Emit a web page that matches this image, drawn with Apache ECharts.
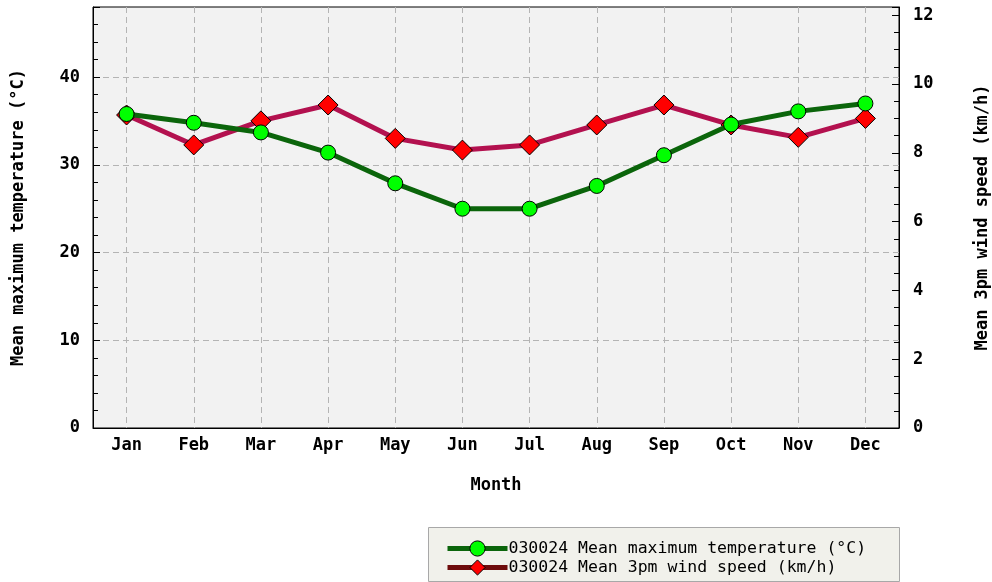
<!DOCTYPE html>
<html>
<head>
<meta charset="utf-8">
<script src="https://cdn.jsdelivr.net/npm/echarts@6/dist/echarts.min.js"></script>
<style>
  html, body { margin: 0; padding: 0; background: #ffffff; }
  #chart { width: 992px; height: 582px; }
</style>
</head>
<body>
<div id="chart"></div>
<script>
// Monthly climate summary for station 030024
const months = ['Jan', 'Feb', 'Mar', 'Apr', 'May', 'Jun', 'Jul', 'Aug', 'Sep', 'Oct', 'Nov', 'Dec'];
const maxTemp = [35.8, 34.8, 33.7, 31.4, 27.9, 25.0, 25.0, 27.6, 31.1, 34.6, 36.1, 37.0];
const wind3pm = [9.1, 8.23, 8.93, 9.39, 8.42, 8.08, 8.23, 8.81, 9.39, 8.81, 8.45, 9.0];
const tempName = '030024 Mean maximum temperature (°C)';
const windName = '030024 Mean 3pm wind speed (km/h)';

const monoBold = { fontFamily: 'DejaVu Sans Mono', fontWeight: 'bold', fontSize: 17, color: '#000' };

const chart = echarts.init(document.getElementById('chart'), null, { renderer: 'canvas' });

chart.setOption({
  animation: false,
  backgroundColor: '#ffffff',
  grid: {
    left: 93, right: 93, top: 7, bottom: 154,
    containLabel: false, outerBoundsMode: 'none',
    show: true, backgroundColor: '#f2f2f2', borderColor: '#000', borderWidth: 1
  },
  graphic: [{
    type: 'rect', left: 428, top: 527, z: -1,
    shape: { width: 471, height: 54 },
    style: { fill: '#f1f1eb', stroke: '#a8a8a8', lineWidth: 1 }
  }],
  legend: {
    left: 445, top: 540, orient: 'vertical',
    itemWidth: 60, itemHeight: 19, itemGap: 2, padding: 0,
    textStyle: { fontFamily: 'DejaVu Sans Mono', fontSize: 16.5, color: '#000', padding: [0, 0, 0, -4] },
    data: [
      { name: tempName, itemStyle: { color: '#00ff00', borderColor: '#000', borderWidth: 1 }, lineStyle: { color: '#0b650b', width: 5 } },
      { name: windName, itemStyle: { color: '#ff0000', borderColor: '#000', borderWidth: 1 }, lineStyle: { color: '#6e0c0c', width: 5 } }
    ]
  },
  xAxis: {
    type: 'category', data: months, boundaryGap: true,
    name: 'Month', nameLocation: 'middle', nameGap: 49, nameTextStyle: monoBold,
    axisLine: { lineStyle: { color: '#000', width: 1 } },
    axisTick: { inside: true, alignWithLabel: true, length: 6, lineStyle: { color: '#000' } },
    axisLabel: Object.assign({ margin: 9 }, monoBold),
    splitLine: { show: true, alignWithLabel: true, lineStyle: { color: '#b4b4b4', type: [6, 4] } }
  },
  yAxis: [{
    type: 'value', min: 0, max: 48, interval: 10, position: 'left',
    name: 'Mean maximum temperature (°C)', nameLocation: 'middle', nameRotate: 90, nameGap: 66,
    nameTextStyle: monoBold,
    axisLine: { show: true, lineStyle: { color: '#000' } },
    axisTick: { show: true, inside: true, length: 7, lineStyle: { color: '#000' } },
    minorTick: { show: true, splitNumber: 5, length: 5, lineStyle: { color: '#000' } },
    axisLabel: Object.assign({ margin: 13, showMaxLabel: false }, monoBold),
    splitLine: { show: true, showMaxLine: false, lineStyle: { color: '#b4b4b4', type: [6, 4] } }
  }, {
    type: 'value', min: 0, max: 12.24, interval: 2, position: 'right',
    name: 'Mean 3pm wind speed (km/h)', nameLocation: 'middle', nameRotate: 90, nameGap: 75,
    nameTextStyle: monoBold,
    axisLine: { show: true, lineStyle: { color: '#000' } },
    axisTick: { show: true, inside: true, length: 7, lineStyle: { color: '#000' } },
    minorTick: { show: true, splitNumber: 4, length: 5, lineStyle: { color: '#000' } },
    axisLabel: Object.assign({ margin: 14, showMaxLabel: false }, monoBold),
    splitLine: { show: false }
  }],
  series: [{
    name: windName, type: 'line', yAxisIndex: 1, data: wind3pm, z: 3,
    symbol: 'diamond', symbolSize: 20,
    lineStyle: { color: '#b3114f', width: 5 },
    itemStyle: { color: '#ff0000', borderColor: '#000', borderWidth: 1 }
  }, {
    name: tempName, type: 'line', yAxisIndex: 0, data: maxTemp, z: 4,
    symbol: 'circle', symbolSize: 15,
    lineStyle: { color: '#0b650b', width: 5 },
    itemStyle: { color: '#00ff00', borderColor: '#000', borderWidth: 1 }
  }]
});
</script>
</body>
</html>
